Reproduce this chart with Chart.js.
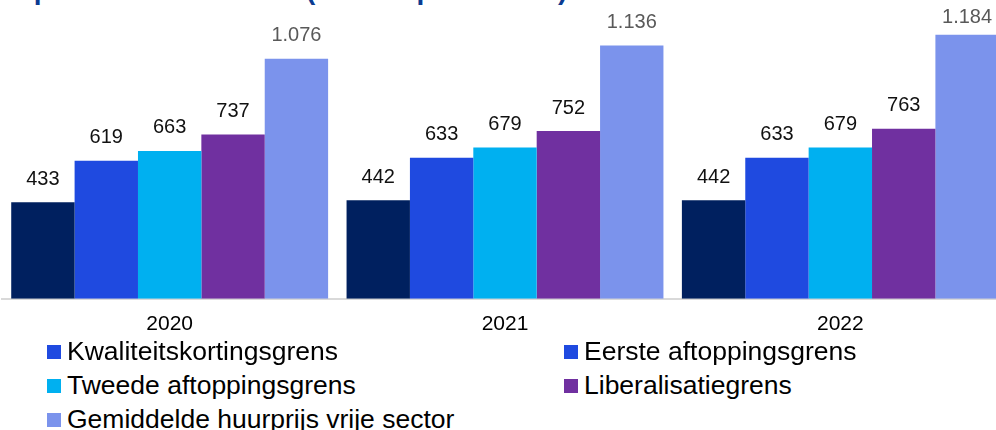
<!DOCTYPE html>
<html>
<head>
<meta charset="utf-8">
<script src="https://cdn.jsdelivr.net/npm/chart.js@4/dist/chart.umd.min.js"></script>
<style>
  html, body { margin:0; padding:0; background:#fff; overflow:hidden; width:996px; height:430px; }
  #wrap { position:relative; width:996px; height:430px; overflow:hidden; font-family:"Liberation Sans", Arial, sans-serif; }
  #title { position:absolute; left:12px; top:-24px; font-size:28px; line-height:28px; font-weight:bold; color:#0b3b91; white-space:nowrap; }
  #chartBox { position:absolute; left:0; top:0; width:1010px; height:350px; }
  .lg { position:absolute; height:34px; line-height:34px; font-size:26.5px; color:#000; white-space:nowrap; padding-left:20px; }
  .lg i { position:absolute; left:0; top:10.7px; width:14px; height:14px; }
</style>
</head>
<body>
<div id="wrap">
  <div id="title">Opbouw huurniveaus (in euro per maand)</div>
  <div id="chartBox"><canvas id="c" width="1010" height="350"></canvas></div>
  <div id="legend"></div>
</div>
<script>
const categories = ['2020', '2021', '2022'];
const kwaliteitskortingsgrens = [433, 442, 442];
const eersteAftoppingsgrens = [619, 633, 633];
const tweedeAftoppingsgrens = [663, 679, 679];
const liberalisatiegrens = [737, 752, 763];
const gemiddeldeHuurprijs = [1076, 1136, 1184];
const seriesNames = ['Kwaliteitskortingsgrens', 'Eerste aftoppingsgrens', 'Tweede aftoppingsgrens', 'Liberalisatiegrens', 'Gemiddelde huurprijs vrije sector'];

const seriesValues = [kwaliteitskortingsgrens, eersteAftoppingsgrens, tweedeAftoppingsgrens, liberalisatiegrens, gemiddeldeHuurprijs];
const barColors = ['#00205f', '#1f4ae0', '#00b0f0', '#7030a0', '#7b93ec'];
const legendColors = ['#1f4ae0', '#1f4ae0', '#00b0f0', '#7030a0', '#7b93ec'];
const labelColors = ['#111', '#111', '#111', '#111', '#595959'];

function fmt(v) {
  const s = String(Math.round(v));
  return s.replace(/\B(?=(\d{3})+(?!\d))/g, '.');
}

const valueLabels = {
  id: 'valueLabels',
  afterDatasetsDraw(chart) {
    const ctx = chart.ctx;
    ctx.save();
    ctx.font = '20px "Liberation Sans", Arial, sans-serif';
    ctx.textAlign = 'center';
    ctx.textBaseline = 'middle';
    chart.data.datasets.forEach((ds, i) => {
      const meta = chart.getDatasetMeta(i);
      ctx.fillStyle = labelColors[i];
      meta.data.forEach((bar, j) => {
        ctx.fillText(fmt(ds.data[j]), bar.x, Math.max(bar.y - 23, 17.5));
      });
    });
    ctx.restore();
  }
};

new Chart(document.getElementById('c'), {
  type: 'bar',
  data: {
    labels: categories,
    datasets: seriesValues.map((vals, i) => ({
      label: seriesNames[i],
      data: vals,
      backgroundColor: barColors[i],
      borderWidth: 0,
      categoryPercentage: 0.945,
      barPercentage: 1.0
    }))
  },
  options: {
    responsive: false,
    devicePixelRatio: 1,
    animation: false,
    layout: { padding: { left: 2, right: 2, top: 0, bottom: 0 } },
    plugins: { legend: { display: false }, title: { display: false }, tooltip: { enabled: false } },
    scales: {
      x: {
        grid: { display: false, drawTicks: false },
        border: { display: true, color: '#d9d9d9', width: 2 },
        ticks: { color: '#000', font: { size: 21, family: '"Liberation Sans", Arial, sans-serif' }, padding: 13 }
      },
      y: { display: false, min: 0, max: 1340 }
    }
  },
  plugins: [valueLabels]
});

// legend (two columns, as in the reference)
const legendPos = [[47, 334], [564, 334], [47, 368], [564, 368], [47, 402]];
const lg = document.getElementById('legend');
seriesNames.forEach((name, i) => {
  const d = document.createElement('div');
  d.className = 'lg';
  d.style.left = legendPos[i][0] + 'px';
  d.style.top = legendPos[i][1] + 'px';
  const m = document.createElement('i');
  m.style.background = legendColors[i];
  d.appendChild(m);
  d.appendChild(document.createTextNode(name));
  lg.appendChild(d);
});
</script>
</body>
</html>
